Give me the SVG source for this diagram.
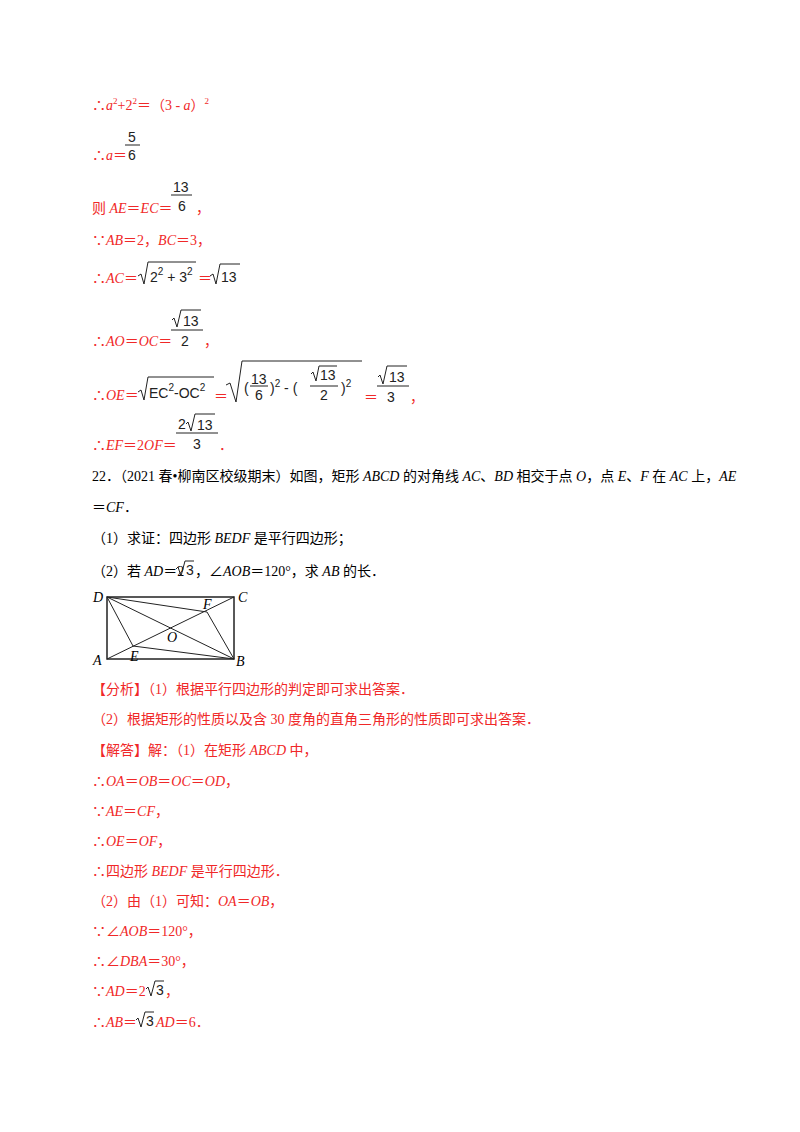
<svg xmlns="http://www.w3.org/2000/svg" width="800" height="1132" viewBox="0 0 800 1132">
<style>
text{font-family:"Liberation Serif","Noto Sans CJK SC",serif;font-size:14px}
.r{fill:#f02828}
.k{fill:#000}
.m{font-family:"Liberation Sans","Noto Sans CJK SC",sans-serif;font-size:14px;fill:#222}
.l{stroke:#222;stroke-width:1;fill:none}
</style>
<rect width="800" height="1132" fill="#fff"/>
<g id="sol1">
<text class="r" x="92" y="110">∴<tspan font-style="italic">a</tspan><tspan font-size="9" dy="-6">2</tspan><tspan dy="6">+2</tspan><tspan font-size="9" dy="-6">2</tspan><tspan dy="6">＝（3 - </tspan><tspan font-style="italic">a</tspan>）<tspan font-size="9" dy="-6">2</tspan></text>
<text class="r" x="92" y="160">∴<tspan font-style="italic">a</tspan>＝</text>
<text class="m" x="128" y="142">5</text><line class="l" x1="125" y1="145" x2="140" y2="145"/><text class="m" x="128" y="160">6</text>
<text class="r" x="92" y="213">则 <tspan font-style="italic">AE</tspan>＝<tspan font-style="italic">EC</tspan>＝</text>
<text class="r" x="196" y="213">，</text>
<text class="m" x="173" y="192">13</text><line class="l" x1="171" y1="195" x2="192" y2="195"/><text class="m" x="178" y="211">6</text>
<text class="r" x="92" y="245">∵<tspan font-style="italic">AB</tspan>＝2，<tspan font-style="italic">BC</tspan>＝3，</text>
<text class="r" x="92" y="283">∴<tspan font-style="italic">AC</tspan>＝</text>
<path class="l" d="M138 276 L141 274 L144 284 L148 262 L196 262"/>
<text class="m" x="150" y="282">2<tspan font-size="10" dy="-7">2</tspan><tspan dy="7"> + 3</tspan><tspan dy="-7" font-size="10">2</tspan></text>
<text class="r" x="198" y="283">＝</text>
<path class="l" d="M210 276 L213 274 L216 284 L220 264 L240 264"/>
<text class="m" x="221" y="282">13</text>
<text class="r" x="92" y="346">∴<tspan font-style="italic">AO</tspan>＝<tspan font-style="italic">OC</tspan>＝</text>
<text class="r" x="204" y="346">，</text>
<path class="l" d="M172 320 L174 318 L177 327 L181 310 L201 310"/><text class="m" x="183" y="326">13</text>
<line class="l" x1="171" y1="330" x2="203" y2="330"/><text class="m" x="181" y="346">2</text>
<text class="r" x="92" y="400">∴<tspan font-style="italic">OE</tspan>＝</text>
<path class="l" d="M138 392 L141 390 L144 400 L148 377 L214 377"/>
<text class="m" x="149" y="398" font-family="Liberation Serif">EC<tspan font-size="10" dy="-7">2</tspan><tspan dy="7">-OC</tspan><tspan font-size="10" dy="-7">2</tspan></text>
<text class="r" x="214" y="401">＝</text>
<path class="l" d="M226 385 L230 383 L236 402 L242 361 L362 361"/>
<text class="m" x="244" y="393">(</text><text class="m" x="251" y="384" font-size="13">13</text><line class="l" x1="250" y1="386" x2="268" y2="386"/><text class="m" x="255" y="400" font-size="13">6</text>
<text class="m" x="270" y="393">)<tspan font-size="10" dy="-6">2</tspan><tspan dy="6"> - (</tspan></text>
<path class="l" d="M311 374 L313 372 L316 381 L319 366 L337 366"/><text class="m" x="320" y="380" font-size="13">13</text>
<line class="l" x1="310" y1="386" x2="338" y2="386"/><text class="m" x="320" y="400" font-size="13">2</text>
<text class="m" x="341" y="393">)<tspan font-size="10" dy="-6">2</tspan></text>
<text class="r" x="364" y="402">＝</text>
<path class="l" d="M378 377 L380 375 L383 384 L387 366 L407 366"/><text class="m" x="389" y="382">13</text>
<line class="l" x1="377" y1="386" x2="409" y2="386"/><text class="m" x="387" y="402">3</text>
<text class="r" x="410" y="402">，</text>
<text class="r" x="92" y="450">∴<tspan font-style="italic">EF</tspan>＝2<tspan font-style="italic">OF</tspan>＝</text>
<text class="r" x="219" y="450">．</text>
<text class="m" x="178" y="429">2</text><path class="l" d="M186 424 L188 422 L191 431 L195 414 L215 414"/><text class="m" x="197" y="430">13</text>
<line class="l" x1="176" y1="433" x2="218" y2="433"/><text class="m" x="193" y="449">3</text>
</g>
<g id="problem">
<text class="k" x="92" y="481">22．（2021 春•柳南区校级期末）如图，矩形 <tspan font-style="italic">ABCD</tspan> 的对角线 <tspan font-style="italic">AC</tspan>、<tspan font-style="italic">BD</tspan> 相交于点 <tspan font-style="italic">O</tspan>，点 <tspan font-style="italic">E</tspan>、<tspan font-style="italic">F</tspan> 在 <tspan font-style="italic">AC</tspan> 上，<tspan font-style="italic">AE</tspan></text>
<text class="k" x="92" y="512">＝<tspan font-style="italic">CF</tspan>．</text>
<text class="k" x="92" y="543">（1）求证：四边形 <tspan font-style="italic">BEDF</tspan> 是平行四边形；</text>
<text class="k" x="92" y="576">（2）若 <tspan font-style="italic">AD</tspan>＝2</text>
<path class="l" d="M176 569 L178 567 L181 576 L185 561 L194 561"/><text class="m" x="186" y="575">3</text>
<text class="k" x="195" y="576">，∠<tspan font-style="italic">AOB</tspan>＝120°，求 <tspan font-style="italic">AB</tspan> 的长．</text>
</g>
<g id="figure" stroke="#222" stroke-width="1" fill="none">
<rect x="107" y="597" width="127" height="62" stroke-width="1.5"/>
<line x1="107" y1="659" x2="234" y2="597"/>
<line x1="107" y1="597" x2="234" y2="659"/>
<polygon points="107,597 207,612 234,659 133,646"/>
</g>
<g id="labels" font-style="italic">
<text class="k" x="93" y="602">D</text><text class="k" x="238" y="602">C</text>
<text class="k" x="93" y="665">A</text><text class="k" x="236" y="666">B</text>
<text class="k" x="203" y="609">F</text><text class="k" x="167" y="642">O</text><text class="k" x="130" y="661">E</text>
</g>
<g id="answer">
<text class="r" x="92" y="694">【分析】（1）根据平行四边形的判定即可求出答案．</text>
<text class="r" x="92" y="724">（2）根据矩形的性质以及含 30 度角的直角三角形的性质即可求出答案．</text>
<text class="r" x="92" y="755">【解答】解：（1）在矩形 <tspan font-style="italic">ABCD</tspan> 中，</text>
<text class="r" x="92" y="786">∴<tspan font-style="italic">OA</tspan>＝<tspan font-style="italic">OB</tspan>＝<tspan font-style="italic">OC</tspan>＝<tspan font-style="italic">OD</tspan>，</text>
<text class="r" x="92" y="816">∵<tspan font-style="italic">AE</tspan>＝<tspan font-style="italic">CF</tspan>，</text>
<text class="r" x="92" y="846">∴<tspan font-style="italic">OE</tspan>＝<tspan font-style="italic">OF</tspan>，</text>
<text class="r" x="92" y="876">∴四边形 <tspan font-style="italic">BEDF</tspan> 是平行四边形．</text>
<text class="r" x="92" y="906">（2）由（1）可知：<tspan font-style="italic">OA</tspan>＝<tspan font-style="italic">OB</tspan>，</text>
<text class="r" x="92" y="936">∵∠<tspan font-style="italic">AOB</tspan>＝120°，</text>
<text class="r" x="92" y="966">∴∠<tspan font-style="italic">DBA</tspan>＝30°，</text>
<text class="r" x="92" y="996">∵<tspan font-style="italic">AD</tspan>＝2</text>
<path class="l" d="M146 989 L148 987 L151 996 L155 981 L164 981"/><text class="m" x="156" y="995">3</text>
<text class="r" x="165" y="996">，</text>
<text class="r" x="92" y="1027">∴<tspan font-style="italic">AB</tspan>＝</text>
<path class="l" d="M136 1020 L138 1018 L141 1027 L145 1012 L154 1012"/><text class="m" x="146" y="1026">3</text>
<text class="r" x="156" y="1027"><tspan font-style="italic">AD</tspan>＝6．</text>
</g>
</svg>
